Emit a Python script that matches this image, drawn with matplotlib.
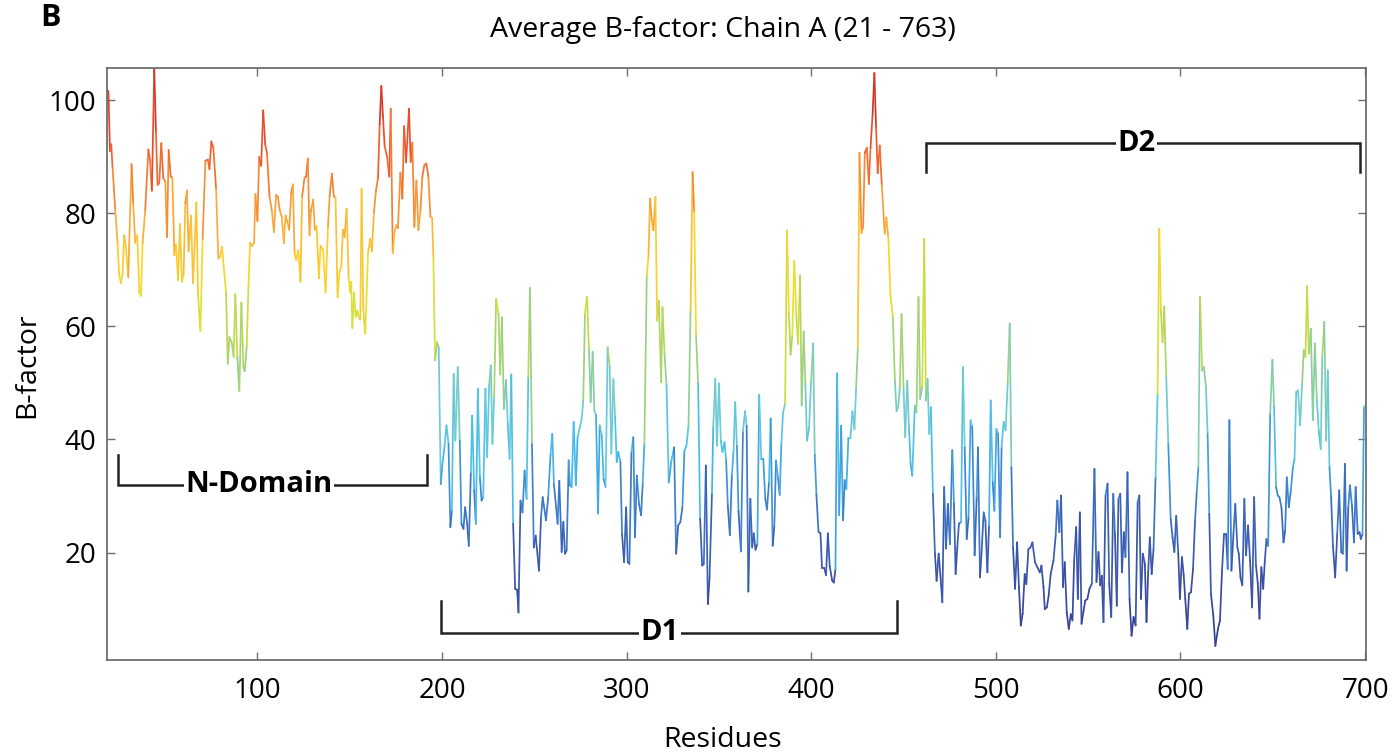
import matplotlib
matplotlib.use("Agg")
import matplotlib.pyplot as plt
import numpy as np
from matplotlib.collections import LineCollection
from matplotlib.colors import LinearSegmentedColormap, Normalize

plt.rcParams['font.family'] = ['Open Sans', 'DejaVu Sans']

# residue positions and average B-factor
residues = [
    19.0, 19.3, 20.1, 20.8, 21.5, 23.0, 24.2, 25.1, 26.0, 26.9, 27.8, 28.7, 30.0, 31.8, 32.7, 33.8,
    34.9, 36.0, 36.9, 37.8, 39.2, 40.9, 41.8, 42.8, 44.1, 45.0, 45.9, 46.8, 47.9, 49.0, 50.1, 51.0,
    51.9, 53.0, 53.9, 55.0, 55.9, 57.0, 58.0, 59.1, 60.0, 60.9, 61.8, 62.7, 64.0, 65.1, 66.9, 67.8,
    69.1, 70.3, 71.8, 73.1, 74.0, 75.0, 76.1, 77.6, 78.8, 79.7, 80.8, 82.1, 83.0, 83.9, 84.8, 86.1,
    87.1, 88.0, 89.1, 90.2, 91.3, 92.4, 93.1, 94.2, 95.1, 96.0, 97.1, 98.2, 98.9, 100.0, 100.9,
    102.0, 103.1, 104.2, 105.2, 106.5, 107.8, 108.9, 110.1, 111.0, 112.1, 113.2, 114.3, 115.2, 116.1,
    117.2, 118.3, 119.2, 120.1, 121.0, 122.1, 123.3, 124.2, 125.5, 126.4, 127.3, 128.2, 129.1, 130.2,
    131.1, 132.0, 133.3, 134.2, 135.5, 136.9, 138.2, 139.1, 140.3, 141.4, 142.3, 143.4, 144.5, 145.4,
    146.3, 147.2, 148.3, 149.4, 150.3, 150.8, 151.4, 152.3, 153.2, 154.1, 154.8, 155.7, 156.4, 157.3,
    158.4, 159.9, 161.1, 162.0, 163.1, 164.2, 165.3, 166.2, 167.1, 168.0, 168.9, 170.2, 171.4, 172.2,
    173.3, 174.3, 175.2, 176.1, 177.4, 178.5, 179.4, 180.5, 182.1, 183.0, 183.9, 185.0, 186.1, 187.2,
    188.3, 189.3, 190.4, 191.5, 192.6, 193.7, 194.6, 195.3, 196.2, 197.3, 198.2,
    199.3, 200.2, 201.3, 202.4, 203.5, 204.5, 205.3, 206.3, 207.2, 208.5, 209.6, 210.5, 211.6, 212.5,
    213.6, 214.5, 215.6, 216.3, 217.4, 218.3, 219.4, 220.5, 221.4, 222.3, 223.5, 224.4, 225.5, 226.4,
    227.3, 228.2, 229.3, 230.6, 231.5, 232.4, 233.5, 234.6, 235.6, 236.6, 237.5, 238.5, 239.6, 240.7,
    241.4, 242.5, 243.6, 244.7, 245.8, 246.7, 247.6, 248.7, 249.7, 250.7, 252.5, 253.6, 254.5, 256.3,
    257.5, 258.8, 259.7, 260.6, 262.6, 263.5, 264.8, 265.7, 266.6, 267.5,
    268.6, 269.3, 270.2, 271.3, 272.5, 273.4, 274.7, 275.6, 276.5, 277.4, 278.5, 279.6, 280.5, 281.6,
    282.5, 283.4, 284.5, 285.4, 286.5, 287.5, 288.6, 289.7, 290.8, 291.7, 292.8, 293.7, 294.6, 295.5,
    296.6, 297.5, 298.6, 299.7, 300.6, 301.5, 302.6, 303.6, 304.5, 305.5, 306.7, 307.8, 308.7, 309.6,
    310.9, 311.8, 312.7, 313.6, 314.5, 315.6, 316.5, 317.4, 318.7, 319.4, 320.5, 321.6, 322.8, 324.1,
    325.7, 326.8, 327.9, 329.1, 330.2, 331.3, 332.4, 333.5, 334.6, 335.7, 336.6, 337.6, 338.7, 339.8,
    340.9, 341.8, 342.9, 344.0, 344.9, 346.2, 346.9, 348.0, 348.9, 350.0, 351.0, 351.9, 353.0,
    353.9, 354.8, 355.9, 357.0, 357.9, 358.8, 359.7, 360.6, 361.9, 363.0, 364.1, 365.0, 365.9, 367.0,
    368.0, 368.8, 369.8, 370.8, 371.8, 372.9, 374.0, 375.1, 376.0, 377.1, 378.0, 379.1, 380.0, 380.9,
    382.0, 382.9, 383.8, 384.7, 385.8, 386.9, 387.9, 388.8, 389.7, 390.8, 391.9, 392.8, 393.9, 394.8,
    395.9, 396.8, 397.7, 398.8, 399.9, 401.0, 401.9, 402.8, 403.9, 405.0, 405.8, 407.0, 408.0, 409.0,
    410.0, 411.3, 412.2, 413.1, 414.0, 415.1, 416.2, 417.2, 418.1, 419.0, 420.1, 421.2, 422.3, 423.4,
    424.3, 425.2, 426.1, 427.2, 428.1, 429.0, 430.1, 431.2, 432.1, 433.2, 434.2, 435.1, 436.0, 437.1,
    438.2, 439.8, 440.7, 441.7, 442.9, 444.2, 445.3, 446.2, 447.1, 448.0, 448.9, 450.0, 450.9, 452.0,
    452.9, 453.8, 454.7, 456.1, 457.0, 458.1, 459.0, 460.1, 461.2, 462.1, 463.0, 463.9, 464.8, 465.9,
    467.0, 467.9, 469.0, 469.9, 471.0, 472.0, 473.0, 474.0, 475.1, 476.4, 477.3, 478.2, 479.1, 480.0,
    481.1, 482.2, 483.1, 484.2, 485.2, 486.3, 487.2, 488.5, 489.6, 490.3, 491.4, 492.3, 493.4, 494.3,
    495.4, 496.3, 497.2, 498.3, 499.2, 500.3, 501.2, 502.3, 503.1, 504.2, 505.3, 506.4, 507.5, 508.4,
    509.3, 510.4, 511.5, 512.5, 513.5, 514.5, 515.6, 516.5, 517.6, 518.7, 519.8,
    521.2, 522.5, 523.8, 524.7, 525.8, 526.5, 527.6, 528.6, 529.7, 531.2, 532.4, 533.3, 534.4, 535.3,
    536.4, 537.3, 538.4, 539.5, 540.6, 541.5, 542.4, 543.5, 544.4, 545.5, 546.4, 547.5, 548.4, 549.6,
    550.7, 552.0, 553.4, 554.5, 555.6, 556.5, 557.4, 558.3, 559.4, 560.5, 561.4, 562.5, 563.6, 564.5,
    565.5, 566.4, 567.4, 568.3, 569.3, 570.2, 571.3, 572.4, 573.5, 574.6, 575.7, 576.8, 577.7, 578.6,
    579.6, 580.7, 581.6, 582.5, 583.4, 584.4, 585.4, 586.5, 587.6, 588.5, 589.4, 590.3, 591.2, 592.3,
    593.4, 594.7, 595.7, 596.7, 597.7, 598.8, 599.7, 600.8, 601.7, 602.6, 603.7, 604.6, 605.7, 606.8,
    607.9, 608.8, 609.7, 610.6, 611.7, 612.7, 613.8, 614.7, 615.6, 616.5, 617.8, 618.9, 620.3, 621.4,
    622.5, 623.6, 624.7, 625.6, 626.5, 627.6, 628.7, 629.7, 630.8, 631.6, 632.5, 633.5, 634.6, 635.5,
    636.6, 637.7, 638.8, 639.9, 640.9, 641.9, 642.8, 643.8, 644.8, 645.7, 646.6, 647.5, 648.6, 649.8,
    650.7, 651.8, 652.7, 653.6, 654.7, 655.8, 656.7, 657.6, 658.7, 659.8, 660.9, 661.8, 662.7, 663.7,
    664.8, 665.9, 666.8, 667.7, 668.6, 669.5, 670.6, 671.7, 672.8, 673.9, 674.9, 676.0, 676.8, 677.9,
    678.9, 679.8, 680.7, 681.6, 682.6, 683.8, 684.9, 686.0, 687.1, 688.0, 689.1, 690.0, 690.9, 691.8,
    692.9, 694.0, 694.9, 696.0, 697.0, 697.7, 698.6, 699.4, 700.0,
]

bfactor = [
    101.7, 101.4, 91.0, 92.2, 88.1, 80.5, 74.8, 69.2, 67.6, 69.2, 76.1, 74.2, 68.7, 88.7, 81.8, 74.8,
    76.1, 66.0, 65.4, 74.8, 80.5, 91.3, 89.4, 84.0, 105.5, 94.4, 85.0, 85.3, 92.4, 86.2, 85.6, 75.8,
    91.2, 86.5, 86.3, 72.6, 74.5, 68.2, 78.1, 67.9, 69.2, 81.8, 84.0, 73.3, 79.6, 67.6, 81.9, 65.7,
    59.2, 75.5, 89.3, 89.5, 87.8, 92.7, 91.6, 84.3, 72.0, 72.3, 74.1, 69.2, 66.0, 53.4, 58.1, 57.1,
    54.6, 65.7, 54.6, 48.6, 64.2, 52.7, 52.1, 56.5, 67.0, 74.8, 74.2, 74.8, 83.4, 78.6, 90.0,
    88.4, 98.2, 92.2, 90.6, 83.0, 80.5, 76.7, 83.2, 83.0, 80.5, 79.3, 74.7, 79.6, 78.6,
    77.1, 83.7, 85.1, 73.0, 71.7, 73.5, 67.9, 83.0, 86.3, 86.5, 89.7, 76.1, 80.5, 82.4,
    77.1, 77.7, 68.5, 74.2, 73.6, 66.0, 77.7, 83.0, 87.0, 83.0, 82.7, 65.2, 69.8, 70.5,
    77.1, 75.8, 80.8, 68.6, 66.0, 67.9, 59.7, 66.0, 61.7, 62.8, 61.7, 61.2, 84.3, 63.1,
    58.7, 73.0, 75.5, 73.3, 80.2, 84.0, 86.2, 95.7, 102.5, 97.0, 91.9, 90.0, 86.5, 98.5,
    73.0, 76.7, 77.9, 77.4, 87.2, 82.6, 95.4, 89.0, 98.5, 89.1, 92.5, 77.6, 85.8, 77.0,
    80.5, 86.4, 88.5, 88.8, 86.4, 79.4, 79.2, 72.3, 54.0, 57.2, 56.3,
    32.1, 35.7, 38.6, 42.5, 39.2, 24.5, 27.4, 51.6, 39.8, 52.8, 39.8, 25.1, 24.2, 28.0,
    25.1, 21.2, 34.2, 44.2, 31.0, 25.1, 49.0, 33.3, 29.2, 29.8, 49.0, 36.9, 49.6, 53.1,
    39.2, 47.5, 64.9, 62.2, 51.5, 61.6, 45.4, 50.5, 42.8, 36.6, 51.5, 25.1, 13.6, 13.4,
    9.4, 29.2, 27.1, 34.5, 29.5, 51.0, 66.8, 39.2, 20.9, 23.0, 16.8, 26.2, 29.8, 25.7,
    29.8, 37.5, 41.0, 32.1, 25.1, 32.7, 20.1, 25.4, 19.8, 20.4,
    36.3, 31.9, 31.6, 43.1, 31.9, 40.4, 42.2, 43.6, 46.9, 62.2, 65.2, 55.8, 46.6, 55.5,
    45.1, 44.3, 26.9, 42.5, 40.7, 33.0, 31.6, 56.3, 52.8, 37.5, 50.7, 44.0, 36.0, 37.8,
    36.0, 23.3, 18.3, 28.0, 18.3, 18.0, 37.8, 40.4, 22.7, 33.6, 28.6, 26.6, 32.2, 39.2,
    69.0, 72.3, 82.6, 78.8, 77.0, 82.9, 61.0, 64.6, 50.1, 63.4, 55.2, 49.6, 32.4, 36.0,
    38.6, 19.8, 24.8, 25.4, 28.0, 38.0, 38.9, 42.5, 62.8, 87.3, 80.2, 58.4, 49.9, 26.0,
    17.7, 18.0, 35.4, 10.9, 15.6, 30.4, 42.2, 50.7, 38.9, 49.9, 39.8, 37.8, 39.5,
    36.3, 28.3, 23.1, 33.7, 37.9, 46.6, 38.9, 27.3, 20.2, 41.4, 45.0, 42.4, 13.1, 29.5,
    20.9, 23.4, 20.5, 21.5, 47.9, 36.6, 36.6, 29.5, 27.6, 32.4, 43.7, 21.2, 24.7, 36.3,
    33.1, 30.2, 39.2, 44.7, 46.3, 77.0, 62.1, 55.0, 58.2, 71.6, 62.1, 56.9, 69.0, 46.0,
    59.1, 49.8, 39.8, 42.1, 50.1, 57.0, 37.3, 30.2, 23.7, 23.4, 17.3, 17.3, 16.0, 23.4,
    17.6, 15.1, 14.7, 17.0, 51.7, 26.6, 42.4, 25.7, 32.8, 31.2, 40.2, 40.2, 45.0, 41.8,
    49.2, 56.3, 90.7, 76.5, 77.5, 90.7, 91.6, 85.2, 91.6, 97.4, 104.8, 95.2, 87.1, 92.0,
    85.0, 76.4, 79.3, 75.8, 65.5, 61.6, 50.4, 45.0, 45.7, 49.3, 62.2, 49.0, 40.4, 50.4,
    42.2, 35.7, 33.6, 46.0, 44.8, 65.2, 47.2, 49.3, 75.5, 46.9, 50.7, 41.0, 45.7, 30.4,
    19.8, 15.0, 19.8, 16.2, 11.2, 31.6, 20.7, 28.6, 21.5, 38.1, 28.6, 16.2, 20.9, 25.1,
    25.4, 52.8, 38.6, 22.4, 26.3, 43.4, 42.2, 19.5, 29.8, 38.6, 15.6, 20.4, 27.1, 25.7,
    16.5, 24.8, 46.9, 32.4, 27.4, 41.9, 41.0, 22.7, 38.6, 43.1, 41.6, 50.1, 60.5, 35.1,
    20.9, 13.6, 21.8, 13.9, 7.1, 9.2, 16.2, 14.4, 20.6, 20.9, 21.8,
    18.3, 17.4, 16.5, 17.7, 13.9, 10.0, 10.3, 12.4, 16.2, 18.6, 23.0, 29.2, 23.6, 30.1,
    13.9, 18.3, 9.4, 6.5, 9.1, 8.0, 18.6, 24.5, 11.8, 27.1, 7.4, 9.7, 11.5, 11.8,
    13.6, 14.5, 34.8, 14.8, 20.1, 14.2, 15.9, 7.7, 30.1, 32.2, 14.5, 8.6, 30.4, 23.3,
    10.6, 29.5, 30.4, 16.5, 23.6, 19.2, 34.2, 11.8, 5.3, 8.6, 7.1, 28.9, 30.1, 11.8,
    19.8, 18.0, 7.7, 16.5, 22.7, 16.2, 20.6, 33.3, 48.1, 77.3, 62.8, 57.2, 63.5, 51.0,
    39.2, 25.9, 22.7, 20.1, 26.5, 19.8, 11.8, 19.2, 16.2, 11.8, 6.5, 12.7, 13.0, 17.1,
    25.7, 30.7, 35.1, 65.2, 52.2, 52.8, 49.3, 41.0, 26.8, 12.7, 8.8, 3.5, 6.5, 8.0,
    16.8, 23.3, 23.3, 17.1, 43.4, 16.8, 23.3, 28.6, 21.0, 19.8, 15.6, 14.2, 29.5, 19.5,
    24.8, 18.6, 10.3, 29.8, 17.7, 14.5, 8.3, 17.4, 13.6, 18.6, 22.4, 21.2, 44.5, 54.1,
    45.7, 31.6, 30.1, 29.8, 28.0, 21.8, 23.9, 33.3, 28.0, 31.0, 35.1, 36.6, 48.4, 48.7,
    42.5, 49.9, 55.8, 54.6, 67.1, 55.2, 59.6, 43.4, 57.0, 46.9, 41.6, 38.3, 54.6, 60.8,
    39.8, 52.2, 35.1, 29.8, 21.2, 15.6, 23.3, 31.0, 20.1, 19.8, 35.7, 16.8, 28.0, 31.9,
    28.3, 21.8, 31.6, 23.3, 23.6, 22.4, 23.3, 45.7, 46.0,
]

# domain brackets: label, start / end residue, bar height, tick end, label position
domain_names = ['N-Domain', 'D1', 'D2']
domain_start = [24.6, 199.3, 461.9]
domain_end = [191.7, 446.2, 697.4]
domain_level = [32.0, 5.8, 92.4]
domain_tip = [37.2, 11.5, 87.3]
domain_label_at = [101, 318, 576]

x_ticks = [100, 200, 300, 400, 500, 600, 700]
y_ticks = [20, 40, 60, 80, 100]

# soft jet-like colour scale used for the B-factor
cmap = LinearSegmentedColormap.from_list('bf', [
    (0.00, '#363f94'),
    (0.10, '#3a4ea2'),
    (0.18, '#3b62b6'),
    (0.26, '#3d8bd3'),
    (0.32, '#45bdec'),
    (0.39, '#6ccbd8'),
    (0.46, '#8ccf98'),
    (0.53, '#b5d65a'),
    (0.59, '#e2e22a'),
    (0.65, '#fbd52a'),
    (0.72, '#fbb03a'),
    (0.78, '#f68a34'),
    (0.85, '#f0602e'),
    (0.92, '#e23c28'),
    (1.00, '#ad2a22'),
])
norm = Normalize(vmin=5, vmax=106)

fig = plt.figure(figsize=(13.92, 7.56), dpi=100)
ax = fig.add_axes([107 / 1392, 1 - 660 / 756, (1366 - 107) / 1392, (660 - 68) / 756])

x = np.array(residues)
y = np.array(bfactor)
pts = np.column_stack([x, y]).reshape(-1, 1, 2)
segs = np.concatenate([pts[:-1], pts[1:]], axis=1)
mid = (y[:-1] + y[1:]) / 2
lc = LineCollection(segs, colors=cmap(norm(mid)), linewidths=1.25, capstyle='round', joinstyle='round')
ax.add_collection(lc)

ax.set_xlim(18.5, 700.5)
ax.set_ylim(1, 105.7)
ax.set_xticks(x_ticks)
ax.set_yticks(y_ticks)

for s in ax.spines.values():
    s.set_color('#6e6e6e')
    s.set_linewidth(1.3)
ax.tick_params(direction='in', length=6, width=1, color='#6e6e6e',
               top=True, right=True, labelsize=20)
ax.tick_params(axis='x', pad=12)
ax.tick_params(axis='y', pad=8)

# domain brackets
for name, a, b, lev, tip, lx in zip(domain_names, domain_start, domain_end,
                                   domain_level, domain_tip, domain_label_at):
    ax.plot([a, a, b, b], [tip, lev, lev, tip], color='#222222', lw=1.8, solid_joinstyle='miter')
    ax.text(lx, lev, name, ha='center', va='center', fontsize=21, fontweight='bold',
            bbox=dict(facecolor='white', edgecolor='none', pad=1.0))

fig.text(723 / 1392, 1 - 30 / 756, 'Average B-factor: Chain A (21 - 763)', ha='center', va='center', fontsize=20.5)
fig.text(723 / 1392, 1 - 740 / 756, 'Residues', ha='center', va='center', fontsize=20.5)
fig.text(27 / 1392, 1 - 365 / 756, 'B-factor', ha='center', va='center', rotation=90, fontsize=20.5)
fig.text(51 / 1392, 1 - 18 / 756, 'B', ha='center', va='center', fontsize=22, fontweight='bold')

fig.savefig('out.png', dpi=100)
